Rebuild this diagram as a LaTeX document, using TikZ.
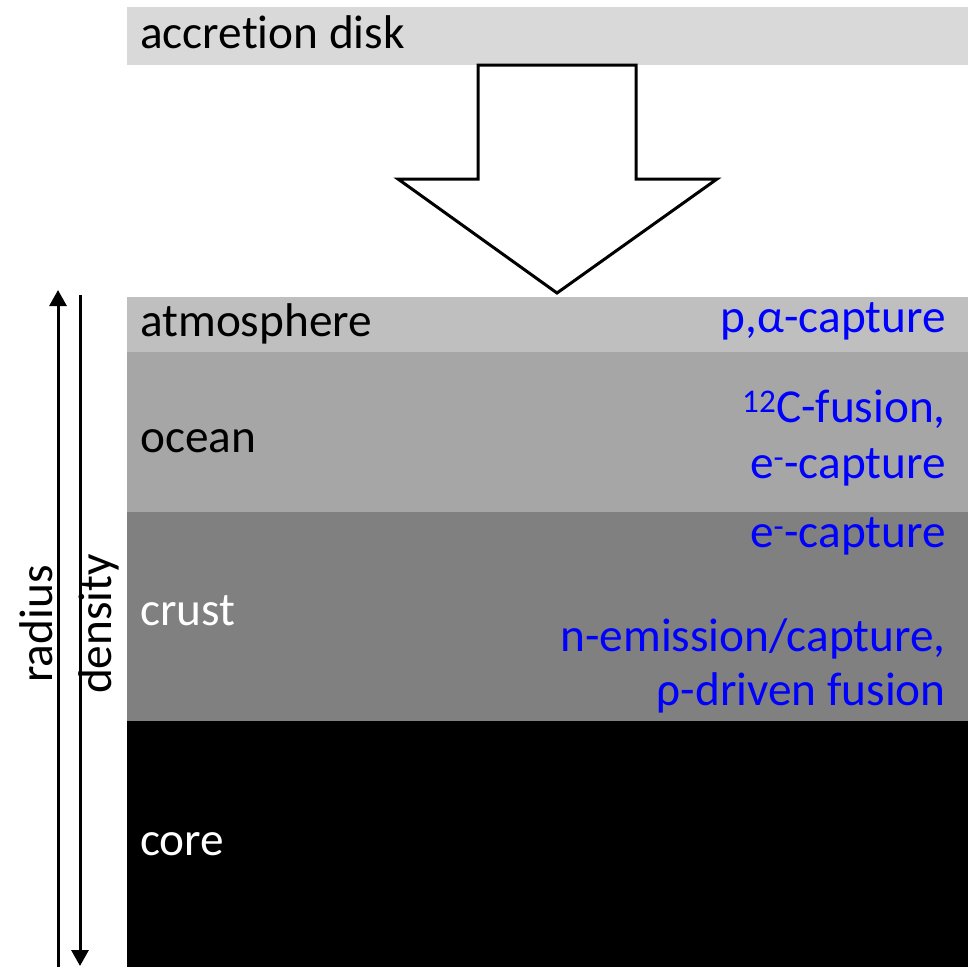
\documentclass[tikz,border=0pt]{standalone}
\usepackage{fontspec}
\setmainfont{Carlito}[Ligatures=NoCommon]
\usetikzlibrary{arrows.meta, positioning}
\definecolor{diskgray}{HTML}{D9D9D9}
\definecolor{atmgray}{HTML}{BFBFBF}
\definecolor{oceangray}{HTML}{A6A6A6}
\definecolor{crustgray}{HTML}{808080}
\definecolor{procblue}{HTML}{0000FF}
\newcommand{\bigfont}{\fontsize{47.3}{56}\selectfont}
\tikzset{
    layername/.style={anchor=base west, font=\bigfont, inner sep=0pt},
    process/.style={anchor=base east, text=procblue, font=\bigfont, inner sep=0pt},
    axislabel/.style={anchor=base, rotate=90, font=\bigfont, inner sep=0pt},
    axisline/.style={line width=3pt, -{Triangle[width=17pt,length=16pt]}}
}

\begin{document}
\begin{tikzpicture}[x=1pt, y=-1pt]
            \useasboundingbox (0,0) rectangle (979,967);

            % layers
            \fill[diskgray] (127,7) rectangle (968,65);
            \fill[atmgray] (127,297) rectangle (968,352);
            \fill[oceangray] (127,352) rectangle (968,512);
            \fill[crustgray] (127,512) rectangle (968,721);
            \fill[black] (127,721) rectangle (968,967);

            % infall arrow
            \draw[line width=3pt, fill=white, line join=miter]
                (478,65) -- (636,65) -- (636,179) -- (717,179)
                -- (557,293) -- (398,179) -- (478,179) -- cycle;

            % layer names
            \node[layername] (disk) at (140,48) {accretion disk};
            \node[layername] (atm) at (140,336) {atmosphere};
            \node[layername] (ocean) at (140,452) {ocean};
            \node[layername, text=white] (crust) at (140,625) {crust};
            \node[layername, text=white] (core) at (140,855) {core};

            % processes
            \node[process] (pacap) at (946,332) {p,α-capture};
            \node[process] (cfus) at (946,422) {\textsuperscript{12}C-fusion,};
            \node[process] (ecapo) at (946,478) {e\textsuperscript{-}-capture};
            \node[process] (ecapc) at (946,547) {e\textsuperscript{-}-capture};
            \node[process] (nemis) at (946,651) {n-emission/capture,};
            \node[process] (rhofus) at (946,705) {ρ-driven fusion};

            % radius and density axes
            \coordinate (rbot) at (58,967);
            \coordinate (rtop) at (58,290);
            \coordinate (dtop) at (80,295);
            \coordinate (dbot) at (80,966);
            \draw[axisline] (rbot) -- (rtop);
            \draw[axisline] (dtop) -- (dbot);
            \node[axislabel] (radius) at (52,624) {radius};
            \node[axislabel] (density) at (111,624) {density};
        \end{tikzpicture}
\end{document}
